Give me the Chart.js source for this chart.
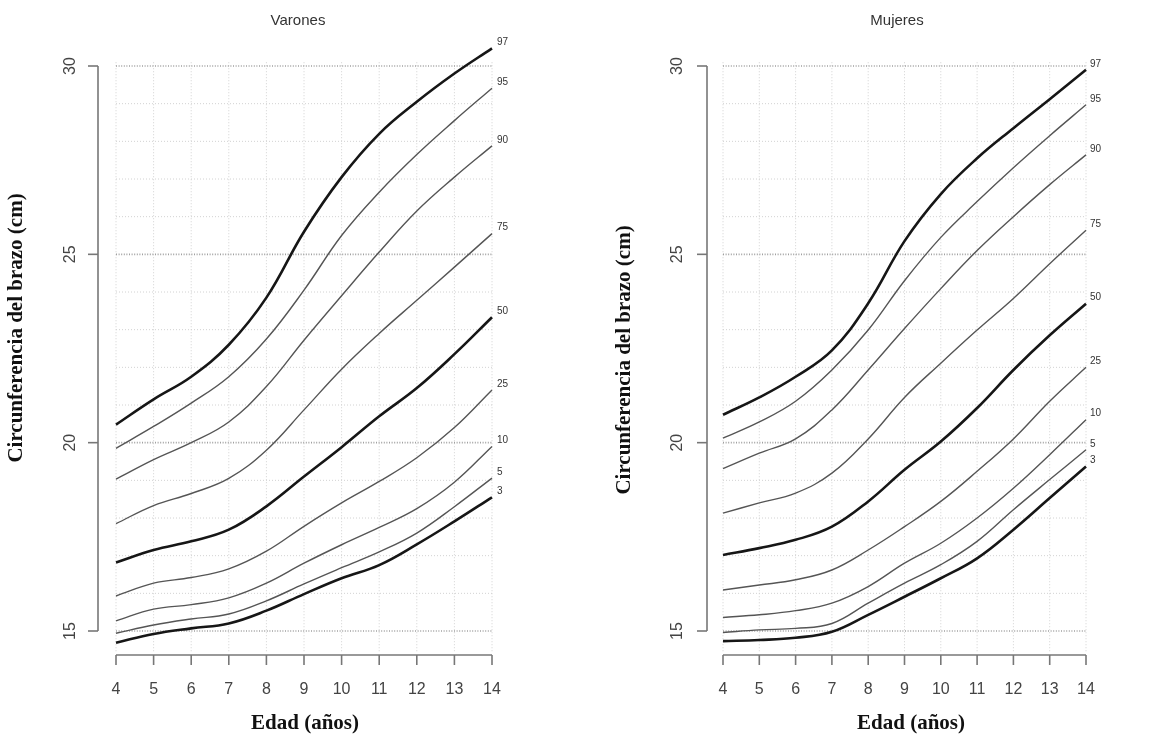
<!DOCTYPE html>
<html lang="es">
<head>
<meta charset="utf-8">
<title>Circunferencia del brazo - percentiles</title>
<script src="https://cdn.jsdelivr.net/npm/chart.js@4.4.1/dist/chart.umd.min.js"></script>
<style>
  html, body { margin: 0; padding: 0; background: #fff; }
  #wrap { position: relative; width: 1160px; height: 740px; overflow: hidden; }
  canvas { position: absolute; top: 0; }
  #chartVarones { left: 0; }
  #chartMujeres { left: 580px; }
</style>
</head>
<body>
<div id="wrap">
  <canvas id="chartVarones" width="580" height="740"></canvas>
  <canvas id="chartMujeres" width="580" height="740"></canvas>
</div>
<script>
"use strict";

// --- Datos -------------------------------------------------------------------

const EDADES = [4, 5, 6, 7, 8, 9, 10, 11, 12, 13, 14];
const Y_TICKS = [15, 20, 25, 30];
const PERCENTILES = ["3", "5", "10", "25", "50", "75", "90", "95", "97"];
const GRUESOS = ["3", "50", "97"];

// Varones
const V_P3  = [14.69, 14.92, 15.07, 15.20, 15.54, 15.98, 16.40, 16.75, 17.30, 17.91, 18.55];
const V_P5  = [14.94, 15.16, 15.32, 15.45, 15.80, 16.25, 16.68, 17.10, 17.60, 18.30, 19.06];
const V_P10 = [15.27, 15.58, 15.70, 15.88, 16.27, 16.80, 17.29, 17.75, 18.25, 18.95, 19.90];
const V_P25 = [15.93, 16.27, 16.42, 16.65, 17.12, 17.78, 18.40, 18.97, 19.60, 20.40, 21.40];
const V_P50 = [16.82, 17.15, 17.38, 17.69, 18.31, 19.10, 19.88, 20.70, 21.45, 22.35, 23.33];
const V_P75 = [17.85, 18.33, 18.65, 19.05, 19.80, 20.87, 21.95, 22.90, 23.78, 24.66, 25.55];
const V_P90 = [19.03, 19.55, 20.00, 20.55, 21.49, 22.72, 23.90, 25.06, 26.15, 27.05, 27.88];
const V_P95 = [19.85, 20.43, 21.05, 21.75, 22.75, 24.05, 25.50, 26.65, 27.65, 28.55, 29.41];
const V_P97 = [20.48, 21.15, 21.75, 22.60, 23.85, 25.60, 27.05, 28.20, 29.05, 29.80, 30.47];

// Mujeres
const M_P3  = [14.73, 14.76, 14.82, 14.98, 15.43, 15.91, 16.40, 16.93, 17.69, 18.53, 19.37];
const M_P5  = [14.96, 15.03, 15.07, 15.20, 15.74, 16.27, 16.76, 17.38, 18.22, 19.02, 19.81];
const M_P10 = [15.36, 15.43, 15.54, 15.74, 16.18, 16.80, 17.33, 18.00, 18.79, 19.68, 20.61];
const M_P25 = [16.09, 16.22, 16.36, 16.62, 17.15, 17.77, 18.44, 19.24, 20.10, 21.10, 22.00];
const M_P50 = [17.02, 17.20, 17.42, 17.77, 18.44, 19.28, 20.03, 20.92, 21.93, 22.85, 23.69];
const M_P75 = [18.13, 18.40, 18.66, 19.19, 20.10, 21.20, 22.11, 22.99, 23.83, 24.75, 25.64];
const M_P90 = [19.31, 19.72, 20.10, 20.87, 21.93, 23.03, 24.09, 25.10, 26.00, 26.85, 27.64];
const M_P95 = [20.12, 20.55, 21.10, 21.93, 22.99, 24.30, 25.45, 26.40, 27.30, 28.15, 28.97];
const M_P97 = [20.74, 21.20, 21.75, 22.45, 23.70, 25.35, 26.60, 27.55, 28.35, 29.12, 29.90];

const SERIES_VARONES = [V_P3, V_P5, V_P10, V_P25, V_P50, V_P75, V_P90, V_P95, V_P97];
const SERIES_MUJERES = [M_P3, M_P5, M_P10, M_P25, M_P50, M_P75, M_P90, M_P95, M_P97];

// --- Estilo ------------------------------------------------------------------

const SANS = '"Liberation Sans", Arial, sans-serif';
const SERIF = '"Liberation Serif", "Times New Roman", serif';
const Y_TITLE = "Circunferencia del brazo (cm)";
const X_TITLE = "Edad (años)";

// Ejes estilo R: separados del area de datos, con marcas hacia afuera
const rAxes = {
  id: "rAxes",
  beforeDatasetsDraw(chart, args, o) {
    const { ctx, scales: { x, y } } = chart;
    const line = (x1, y1, x2, y2) => {
      ctx.beginPath(); ctx.moveTo(x1, y1); ctx.lineTo(x2, y2); ctx.stroke();
    };
    const x0 = x.getPixelForValue(EDADES[0]);
    const x1 = x.getPixelForValue(EDADES[EDADES.length - 1]);
    ctx.save();
    // rejilla vertical (cada año)
    ctx.lineWidth = 1;
    ctx.strokeStyle = "#d2d2d2";
    ctx.setLineDash([1, 2]);
    EDADES.forEach((a) => {
      const px = x.getPixelForValue(a);
      line(px, y.getPixelForValue(30.1), px, y.getPixelForValue(14.45));
    });
    // rejilla horizontal menor (cada cm)
    for (let v = Y_TICKS[0]; v <= Y_TICKS[Y_TICKS.length - 1]; v++) {
      if (Y_TICKS.includes(v)) continue;
      const py = y.getPixelForValue(v);
      line(x0, py, x1, py);
    }
    // rejilla horizontal mayor
    ctx.strokeStyle = "#a0a0a0";
    ctx.lineWidth = 1.6;
    ctx.setLineDash([1, 1.6]);
    Y_TICKS.forEach((v) => {
      const py = y.getPixelForValue(v);
      line(x0, py, x1, py);
    });
    ctx.restore();
  },
  afterDatasetsDraw(chart, args, o) {
    const { ctx } = chart;
    ctx.save();
    ctx.font = `10px ${SANS}`;
    ctx.fillStyle = "#333";
    ctx.textAlign = "left";
    ctx.textBaseline = "middle";
    chart.data.datasets.forEach((ds, i) => {
      const pts = chart.getDatasetMeta(i).data;
      const last = pts[pts.length - 1];
      ctx.fillText(ds.label, last.x + o.labelDx, last.y - 6);
    });
    ctx.restore();
  },
  afterDraw(chart, args, o) {
    const { ctx, chartArea: ca, scales: { x, y } } = chart;
    const line = (x1, y1, x2, y2) => {
      ctx.beginPath(); ctx.moveTo(x1, y1); ctx.lineTo(x2, y2); ctx.stroke();
    };
    ctx.save();
    ctx.strokeStyle = "#777";
    ctx.lineWidth = 1.6;
    ctx.fillStyle = "#444";
    ctx.font = `16px ${SANS}`;

    // eje y
    const ax = ca.left - o.yGap;
    line(ax, y.getPixelForValue(Y_TICKS[0]), ax, y.getPixelForValue(Y_TICKS[Y_TICKS.length - 1]));
    Y_TICKS.forEach((v) => {
      const py = y.getPixelForValue(v);
      line(ax - 10, py, ax, py);
      ctx.save();
      ctx.translate(ca.left - 45, py);
      ctx.rotate(-Math.PI / 2);
      ctx.textAlign = "center";
      ctx.textBaseline = "middle";
      ctx.fillText(String(v), 0, 0);
      ctx.restore();
    });

    // eje x
    const ay = ca.bottom + 24;
    line(x.getPixelForValue(EDADES[0]), ay, x.getPixelForValue(EDADES[EDADES.length - 1]), ay);
    ctx.textAlign = "center";
    ctx.textBaseline = "middle";
    EDADES.forEach((a) => {
      const px = x.getPixelForValue(a);
      line(px, ay, px, ay + 10);
      ctx.fillText(String(a), px, ca.bottom + 59);
    });

    // titulo del panel
    ctx.fillStyle = "#333";
    ctx.font = `15px ${SANS}`;
    ctx.fillText(o.title, o.titleX, 21);

    // titulos de ejes
    ctx.fillStyle = "#111";
    ctx.font = `bold 21px ${SERIF}`;
    ctx.fillText(X_TITLE, o.xTitleX, 724);
    ctx.save();
    ctx.translate(o.yTitleX, o.yTitleY);
    ctx.rotate(-Math.PI / 2);
    ctx.fillText(Y_TITLE, 0, 0);
    ctx.restore();

    ctx.restore();
  },
};

// --- Grafico -----------------------------------------------------------------

function buildDatasets(series) {
  return series.map((vals, i) => {
    const grueso = GRUESOS.includes(PERCENTILES[i]);
    return {
      label: PERCENTILES[i],
      data: EDADES.map((a, j) => ({ x: a, y: vals[j] })),
      borderColor: grueso ? "#161616" : "#555",
      borderWidth: grueso ? 2.6 : 1.4,
      pointRadius: 0,
      tension: 0.4,
      clip: false,
    };
  });
}

function renderPanel(id, series, panel) {
  new Chart(document.getElementById(id), {
    type: "line",
    data: { datasets: buildDatasets(series) },
    options: {
      responsive: false,
      animation: false,
      events: [],
      layout: { padding: panel.padding },
      scales: {
        x: { type: "linear", min: EDADES[0], max: EDADES[EDADES.length - 1], display: false },
        y: { type: "linear", min: Y_TICKS[0], max: Y_TICKS[Y_TICKS.length - 1], display: false },
      },
      plugins: {
        legend: { display: false },
        tooltip: { enabled: false },
        rAxes: panel,
      },
    },
    plugins: [rAxes],
  });
}

renderPanel("chartVarones", SERIES_VARONES, {
  title: "Varones",
  padding: { left: 116, right: 88, top: 66, bottom: 109 },
  yGap: 18,
  labelDx: 5,
  titleX: 298,
  xTitleX: 305,
  yTitleX: 17,
  yTitleY: 328,
});

renderPanel("chartMujeres", SERIES_MUJERES, {
  title: "Mujeres",
  padding: { left: 143, right: 74, top: 66, bottom: 109 },
  yGap: 16,
  labelDx: 4,
  titleX: 317,
  xTitleX: 331,
  yTitleX: 45,
  yTitleY: 360,
});
</script>
</body>
</html>
